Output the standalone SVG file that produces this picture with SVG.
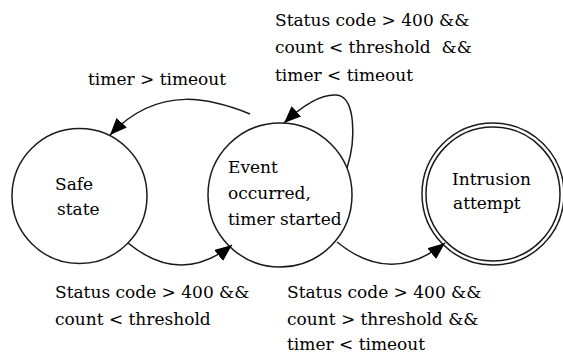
<svg xmlns="http://www.w3.org/2000/svg" width="563" height="356" viewBox="0 0 563 356">
<style>
.st{fill:#fff;stroke:#1a1a1a;stroke-width:1.5}
.c{fill:none;stroke:#1a1a1a;stroke-width:1.5}
text{font-family:"DejaVu Serif","Liberation Serif",serif;font-size:17px;fill:#000;white-space:pre}
</style>
<defs>
<marker id="ah" viewBox="0 0 17 14" refX="17" refY="7" markerWidth="17" markerHeight="14" markerUnits="userSpaceOnUse" orient="auto">
<path d="M0,0 L17,7 L0,14 z" fill="#000"/>
</marker>
</defs>
<rect width="563" height="356" fill="#fff"/>
<g id="safe">
<circle class="st" cx="79.5" cy="196" r="67.5"/>
<text x="55" y="190">Safe</text>
<text x="57" y="215">state</text>
</g>
<g id="event">
<circle class="st" cx="280" cy="195" r="72"/>
<text x="228" y="173">Event</text>
<text x="228" y="199">occurred,</text>
<text x="228" y="225">timer started</text>
</g>
<g id="intrusion">
<circle class="st" cx="493" cy="194" r="71"/>
<circle class="st" cx="493" cy="194" r="67"/>
<text x="452" y="185">Intrusion</text>
<text x="453" y="209">attempt</text>
</g>
<g id="connectors">
<path class="c" d="M128,243 Q180,286 232,245" marker-end="url(#ah)"/>
<path class="c" d="M337,242 Q391,286 445,243" marker-end="url(#ah)"/>
<path class="c" d="M250,114 C215,100 160,82 110,135" marker-end="url(#ah)"/>
<path class="c" d="M347,168 C356,140 356,96 336,95 C320,94 300,108 284,123" marker-end="url(#ah)"/>
</g>
<g id="labels">
<text x="275" y="26">Status code &gt; 400 &amp;&amp;</text>
<text x="275" y="53" xml:space="preserve">count &lt; threshold  &amp;&amp;</text>
<text x="275" y="81">timer &lt; timeout</text>
<text x="88" y="85">timer &gt; timeout</text>
<text x="55" y="298">Status code &gt; 400 &amp;&amp;</text>
<text x="55" y="325">count &lt; threshold</text>
<text x="287" y="298">Status code &gt; 400 &amp;&amp;</text>
<text x="287" y="325">count &gt; threshold &amp;&amp;</text>
<text x="287" y="350">timer &lt; timeout</text>
</g>
</svg>
